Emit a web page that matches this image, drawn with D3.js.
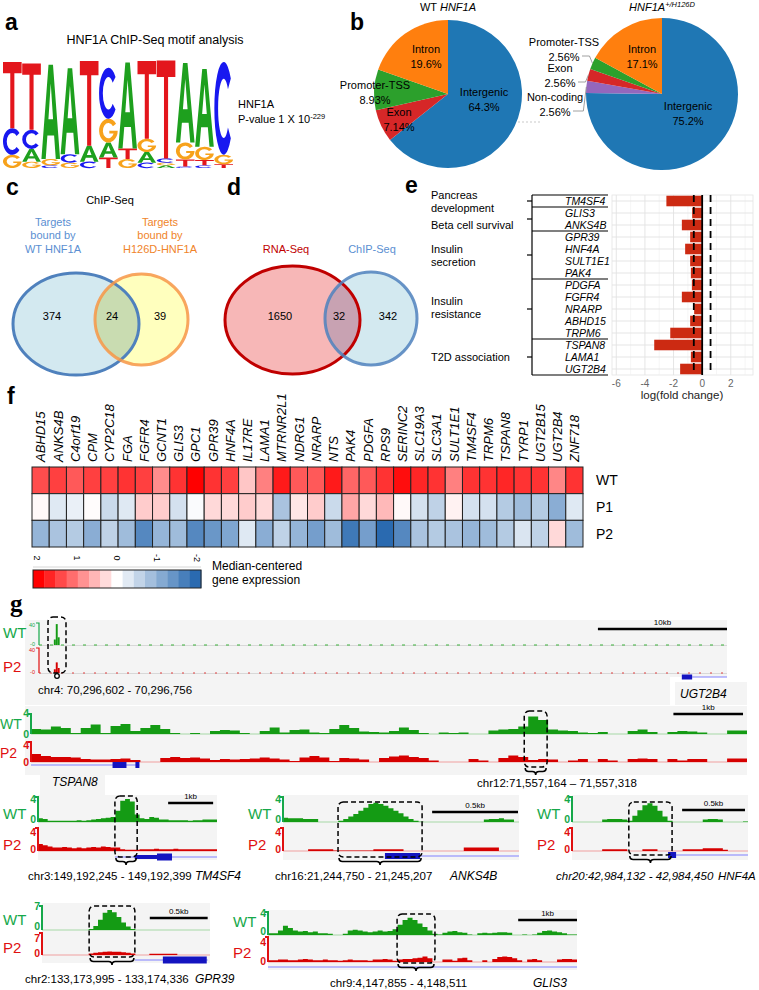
<!DOCTYPE html>
<html><head><meta charset="utf-8">
<script src="https://cdn.jsdelivr.net/npm/d3@7/dist/d3.min.js"></script>
<style>
html,body{margin:0;padding:0;background:#fff;}
svg{display:block;}
</style></head>
<body>
<svg id="fig" width="759" height="990" font-family="Liberation Sans, Arial, sans-serif"></svg>
<script>
// ================= DATA =================
// (a) motif logo, information content (bits) per position
const motifLetters = ["A","C","G","T"];
const motifA = [0,0.24,1.78,1.62,0.3,0.28,1.62,0.2,0.05,1.5,1.47,0];
const motifC = [0.5,0.36,0.05,0.16,0.12,0.96,0,0.1,0.08,0.03,0.05,1.75];
const motifG = [0.25,0.12,0.12,0.1,0,0.45,0.17,0.25,0.05,0.32,0.25,0.18];
const motifT = [1.25,1.25,0,0,1.6,0.2,0.2,1.47,1.85,0.13,0.1,0.07];

// (b) genomic distribution pies
const pieCategories = ["Intergenic","Non-coding","Exon","Promoter-TSS","Intron"];
const pieWT  = [64.3, 0, 7.14, 8.93, 19.6];
const pieMut = [75.2, 2.56, 2.56, 2.56, 17.1];

// (c) (d) Venn counts [left only, both, right only]
const vennCCounts = [374, 24, 39];
const vennDCounts = [1650, 32, 342];

// (e) log fold change
const feGenes = ["TM4SF4","GLIS3","ANKS4B","GPR39","HNF4A","SULT1E1","PAK4","PDGFA","FGFR4","NRARP","ABHD15","TRPM6","TSPAN8","LAMA1","UGT2B4"];
const feLogFC = [-2.5,-0.7,-1.42,-0.84,-1.19,-0.84,-0.79,-0.72,-1.42,-0.56,-0.84,-2.23,-3.35,-0.79,-1.54];
const feGroupLines = [["Pancreas","development"],["Beta cell survival"],["Insulin","secretion"],["Insulin","resistance"],["T2D association"]];
const feGroupSizes = [1,2,4,5,3];
const feTicks = [-6,-4,-2,0,2];
const feThreshold = 0.585;

// (f) heatmap
const hmGenes = ["ABHD15","ANKS4B","C4orf19","CPM","CYP2C18","FGA","FGFR4","GCNT1","GLIS3","GPC1","GPR39","HNF4A","IL17RE","LAMA1","MTRNR2L1","NDRG1","NRARP","NTS","PAK4","PDGFA","RPS9","SERINC2","SLC19A3","SLC3A1","SULT1E1","TM4SF4","TRPM6","TSPAN8","TYRP1","UGT2B15","UGT2B4","ZNF718"];
const hmRows = ["WT","P1","P2"];
const hmWT = [1.4,1.5,1.3,1.5,1.5,1.6,1.5,0.9,1.6,2.0,1.6,1.5,0.45,1.0,1.8,1.3,1.3,1.8,1.2,1.3,1.6,1.9,1.7,1.6,1.0,1.6,1.6,1.7,1.6,1.6,0.95,1.6];
const hmP1 = [0.05,-0.3,-0.2,0.02,-0.5,-0.3,0.4,0.4,-0.4,-0.05,0.3,0.3,0.4,0.3,-0.8,0.2,0.4,-0.5,0.7,0.3,0.55,0.05,-0.4,-0.6,0.1,-0.4,-0.4,-0.7,-0.9,-0.7,-1.1,-0.3];
const hmP2 = [-1.0,-0.8,-0.7,-1.1,-0.6,-0.9,-1.6,-1.0,-0.9,-1.6,-1.4,-1.2,-0.3,-1.1,-0.6,-1.0,-1.3,-0.9,-1.8,-1.3,-2.0,-1.6,-0.8,-0.7,-0.8,-1.0,-0.9,-0.7,-0.35,-0.6,0.3,-0.9];
const hmLegendTicks = [2,1,0,-1,-2];

// (g) ChIP-seq coverage (binned) per locus
const chr4WT = [[1.15,1.3,10],[1.3,1.45,38],[1.45,1.6,14]];   // [startKb, endKb, value]
const chr4P2 = [[1.15,1.3,6],[1.3,1.45,17],[1.45,1.6,8]];
const chr12WT = [1.0,0.9,1.5,1.2,0.2,1.2,1.9,0.2,1.6,2.0,0.6,1.2,1.8,1.0,0.2,0,0.2,0,0.6,0.8,0.7,0.2,0,0.6,1.3,0.3,0.8,0.9,0.3,0.2,1.0,1.8,1.2,0.5,0.4,0.3,0.6,1.3,0.8,0.2,0,0.3,0.2,0.3,0,0,0.7,0.9,1.0,1.5,3.5,2.8,0.9,0.7,0.6,0.3,0.2,0.4,0,0,0.6,0.9,0.4,0,0.4,0.6,0.5,0.3,0,0,0.7,0.7];
const chr12P2 = [1.6,1.2,1.0,1.0,0.9,0.6,0.5,0.5,0.6,0.7,0.4,0,0,0.8,1.0,0.8,0.9,0.7,0.4,0.6,0.5,0.6,0.7,0.9,0.7,0.5,0.2,0.9,1.2,0.9,0.2,0.8,0.7,0.5,0,0.8,1.1,1.3,1.0,0.8,0.3,0,0,0,0.6,0.3,0,0.8,1.3,1.0,0.4,0.6,0.5,0,0.3,0.6,0,0.6,0.3,0,0.6,0.7,0.6,0,0.6,0.3,0.6,0.6,0,0,0.7,0.7];
const chr3WT = [0.6,0.5,0.2,0.2,0.2,0.2,0.2,0.2,0.3,0.2,0.3,0.4,0.5,0.6,0.7,0.8,1.8,3.4,3.7,3.3,1.2,0.6,0.5,0.8,0.7,0.4,0.4,0.3,0.3,0.3,0.3,0.2,0.3,0.3,0.4,0.4,0.4];
const chr3P2 = [1.2,1.0,0.8,0.6,0.6,0.7,0.6,0.5,0.6,0.5,0.6,0.7,0.6,0.8,0.7,0.6,0.6,0.3,0.2,0.2,0.2,0.3,0.3,0.3,0.4,0.3,0.3,0.3,0.4,0.3,0.3,0.3,0.3,0.3,0.3,0.3,0.3];
const chr16WT = [0.7,0.6,0.6,0.6,0.5,0.5,0.5,0,0,0,0,0.2,0.5,0.9,1.3,1.8,2.3,2.9,3.1,2.9,2.6,2.2,1.8,1.4,0.9,0.5,0.2,0.05,0,0,0,0,0,0,0,0,0,0,0,0,0.4,0.5,0.5,0.6,0.4,0.4,0];
const chr16P2 = [0,0,0,0,0,0.3,0.3,0.3,0.3,0.3,0.1,0.1,0.1,0.1,0.1,0.1,0.1,0.1,0.3,0.3,0.3,0.3,0.3,0.3,0,0,0,0,0,0,0,0,0,0,0,0,0.6,0.6,0.6,0.6,0.6,0.6,0.6,0,0,0,0];
const chr20WT = [0,0,0,0,0,0,0.4,0.5,0.5,0.5,0.4,0.2,1.0,1.9,2.7,3.0,2.6,1.8,0.9,0.2,0,0,0,0,0,0,0.4,0.5,0.5,0.4,0,0,0,0,0.1];
const chr20P2 = [0,0,0,0,0,0,0.3,0.3,0.3,0.3,0.3,0,0,0,0.3,0.3,0.3,0,0,0,0,0,0.3,0.3,0.3,0.3,0.5,0.5,0.5,0.5,0.2,0,0,0,0];
const chr2WT = [0,0,0,0,0,0,0,0,0,0,0.3,1.2,3.0,5.0,5.8,5.2,3.8,2.2,1.0,0.3,0,0,0,0,0,0,0,0,0,0,0,0,0,0,0,0];
const chr2P2 = [0,0,0,0,0,0,0,0,0,0,0.5,0.7,0.9,1.0,1.1,1.0,1.0,0.9,0.7,0.5,0,0,0,0.4,0.4,0.4,0.4,0.4,0.4,0,0,0,0,0,0,0];
const chr9WT = [0.3,0.3,0.8,1.6,1.2,0.8,0.6,0.7,0.5,0.6,0.3,0.3,0.2,0,0,0.2,0.8,0.9,0.8,0.6,0.5,0.6,0.8,0.6,0.7,1.0,1.8,2.6,3.0,2.6,2.0,1.4,0.8,0.2,0.1,0.4,0.6,0.7,0.5,0.4,0.1,0,0.3,0.4,0.3,0.4,0.5,0.5,0.4,0,0,0.1,0,0.1,0.4,0.7,0.8,0.6,0.5,0.3,0.1,0.1];
const chr9P2 = [0.3,0.3,0.4,0.4,0.3,0.3,0.4,0.5,0.4,0.3,0.3,0.4,0.3,0.3,0.2,0.3,0.4,0.3,0.3,0.3,0.2,0.4,0.4,0.5,0.4,0.2,0.4,0.5,0.5,0.6,0.7,0.9,0.6,0,0,0.4,0.4,0.2,0.6,0.7,0.3,0,0,0.3,0,0.5,0.8,0.9,0.8,0.6,0.3,0,0.4,0.5,0.3,0,0,0,0.4,0.5,0.5,0.4];

// ================= DRAWING =================
const svg = d3.select("#fig");

function T(parent, x, y, s, o = {}) {
  const t = parent.append("text").attr("x", x).attr("y", y)
    .attr("font-size", o.size || 11).attr("fill", o.fill || "#000");
  if (o.anchor) t.attr("text-anchor", o.anchor);
  if (o.italic) t.attr("font-style", "italic");
  if (o.bold) t.attr("font-weight", "bold");
  if (o.family) t.attr("font-family", o.family);
  if (s !== null) t.text(s);
  return t;
}

// panel letters
[["a",5,30],["b",350,30],["c",6,195],["d",227,195],["e",405,193],["f",7,404]]
  .forEach(([s,x,y]) => T(svg,x,y,s,{size:23,bold:true}));
T(svg,10,612,"g",{size:25,bold:true,family:"Liberation Serif, Times New Roman, serif"});

// ---------- (a) motif ----------
T(svg,155,44,"HNF1A ChIP-Seq motif analysis",{size:12.5,anchor:"middle"});
const motifColors = {A:"#1ea01e", C:"#1818f0", G:"#f7a21b", T:"#e3161c"};
const glyphPath = {
  T: "M0,0 H1 V0.17 H0.61 V1 H0.39 V0.17 H0 Z",
  A: "M0,1 L0.38,0 L0.62,0 L1,1 L0.77,1 L0.68,0.75 L0.32,0.75 L0.23,1 Z M0.375,0.58 L0.625,0.58 L0.5,0.2 Z",
  C: "M0.883,0.179 A0.5,0.5 0 1 0 0.883,0.821 L0.73,0.706 A0.3,0.32 0 1 1 0.73,0.294 Z",
  G: "M0.91,0.213 A0.5,0.5 0 1 0 1,0.5 L0.55,0.5 L0.55,0.62 L0.78,0.62 A0.3,0.32 0 1 1 0.746,0.316 Z"
};
const motif = {A:motifA, C:motifC, G:motifG, T:motifT};
const gA = svg.append("g");
const xm = d3.scaleBand().domain(d3.range(motifA.length)).range([3,233]).paddingInner(0.03);
const ym = d3.scaleLinear().domain([0,2]).range([168,62]);
d3.range(motifA.length).forEach(i => {
  const stack = motifLetters.map(L => ({L, h: motif[L][i]})).filter(d => d.h > 0).sort((a,b) => a.h - b.h);
  let cum = 0;
  stack.forEach(d => {
    const yTop = ym(cum + d.h), yBot = ym(cum);
    cum += d.h;
    gA.append("path").attr("d", glyphPath[d.L]).attr("fill", motifColors[d.L]).attr("fill-rule","evenodd")
      .attr("transform", `translate(${xm(i)},${yTop}) scale(${xm.bandwidth()},${yBot - yTop})`);
  });
});
T(svg,238,108,"HNF1A",{size:11});
const pv = T(svg,238,123,"P-value 1 X 10",{size:11});
pv.append("tspan").attr("dy",-4).attr("font-size",7.5).text("-229");

// ---------- (b) pies ----------
const pieColors = {"Intergenic":"#1f77b4","Non-coding":"#9467bd","Exon":"#d62728","Promoter-TSS":"#2ca02c","Intron":"#ff7f0e"};
const pct = v => d3.format(".3")(v) + "%";
function drawPie(cx, cy, r, vals) {
  const data = pieCategories.map((c,i) => ({c, v: vals[i]}));
  const arcs = d3.pie().sort(null).value(d => d.v)(data);
  const g = svg.append("g").attr("transform", `translate(${cx},${cy})`);
  const arc = d3.arc().innerRadius(0).outerRadius(r);
  g.selectAll("path").data(arcs.filter(a => a.data.v > 0)).join("path")
    .attr("d", arc).attr("fill", a => pieColors[a.data.c]);
  return {g, arcs, data};
}
function pieLabel(g, dx, dy, name, val) {
  T(g, dx, dy - 5.5, name, {size:11, anchor:"middle"});
  T(g, dx, dy + 9.5, pct(val), {size:11, anchor:"middle"});
}
const tW = T(svg,448,11,"WT ",{size:11,anchor:"middle"});
tW.append("tspan").attr("font-style","italic").text("HNF1A");
const pw = drawPie(448, 94, 74, pieWT);
const wtLabelPos = {"Intergenic":[36,7],"Exon":[-49,27],"Promoter-TSS":[-73,0],"Intron":[-22,-36]};
pieCategories.forEach((c,i) => { if (pieWT[i] > 0) pieLabel(pw.g, wtLabelPos[c][0], wtLabelPos[c][1], c, pieWT[i]); });
const tM = T(svg,662,11,null,{size:11,anchor:"middle",italic:true});
tM.append("tspan").text("HNF1A");
tM.append("tspan").attr("dy",-4).attr("font-size",7.5).text("+/H126D");
const pm = drawPie(662, 94, 76, pieMut);
const mutInside = {"Intergenic":[26,21],"Intron":[-20,-36]};
const mutOutside = {"Promoter-TSS":[-98,-43],"Exon":[-102,-17],"Non-coding":[-107,12]};
pieCategories.forEach((c,i) => {
  if (pieMut[i] <= 0) return;
  if (mutInside[c]) { pieLabel(pm.g, mutInside[c][0], mutInside[c][1], c, pieMut[i]); return; }
  const [lx, ly] = mutOutside[c];
  pieLabel(pm.g, lx, ly, c, pieMut[i]);
  const a = pm.arcs[i];
  const mid = (a.startAngle + a.endAngle) / 2;
  const px = Math.sin(mid) * 76, py = -Math.cos(mid) * 76;
  pm.g.append("polyline").attr("points", `${lx+18},${ly+5} ${px-3},${ly+5} ${px},${py}`)
    .attr("fill","none").attr("stroke","#888").attr("stroke-width",0.8);
});
svg.append("line").attr("x1",518).attr("x2",540).attr("y1",122).attr("y2",122).attr("stroke","#bbb").attr("stroke-width",0.8).attr("stroke-dasharray","2,2");

// ---------- (c) (d) Venn ----------
function venn(A, B, fills, strokes, counts, countPos, id) {
  const g = svg.append("g");
  g.append("defs").append("clipPath").attr("id", id).append("ellipse")
    .attr("cx",A.cx).attr("cy",A.cy).attr("rx",A.rx).attr("ry",A.ry);
  g.append("ellipse").attr("cx",A.cx).attr("cy",A.cy).attr("rx",A.rx).attr("ry",A.ry).attr("fill",fills[0]);
  g.append("ellipse").attr("cx",B.cx).attr("cy",B.cy).attr("rx",B.rx).attr("ry",B.ry).attr("fill",fills[1]);
  g.append("ellipse").attr("cx",B.cx).attr("cy",B.cy).attr("rx",B.rx).attr("ry",B.ry).attr("fill",fills[2]).attr("clip-path",`url(#${id})`);
  g.append("ellipse").attr("cx",A.cx).attr("cy",A.cy).attr("rx",A.rx).attr("ry",A.ry).attr("fill","none").attr("stroke",strokes[0]).attr("stroke-width",3);
  g.append("ellipse").attr("cx",B.cx).attr("cy",B.cy).attr("rx",B.rx).attr("ry",B.ry).attr("fill","none").attr("stroke",strokes[1]).attr("stroke-width",3).attr("stroke-opacity",0.85);
  counts.forEach((v,i) => T(g, countPos[i], 320, String(v), {size:11, anchor:"middle"}));
}
T(svg,110,204,"ChIP-Seq",{size:11,anchor:"middle"});
[["Targets",226],["bound by",239],["WT HNF1A",253]].forEach(([s,y]) => T(svg,53,y,s,{size:11,anchor:"middle",fill:"#5b8fd2"}));
[["Targets",226],["bound by",239],["H126D-HNF1A",253]].forEach(([s,y]) => T(svg,160,y,s,{size:11,anchor:"middle",fill:"#f0842a"}));
venn({cx:76,cy:324,rx:63,ry:51},{cx:141.5,cy:319.5,rx:46.5,ry:45.5},
  ["#d3e9f0","#ffffbe","#c9dcb1"],["#4f81bd","#f79646"], vennCCounts, [52,112,160], "clipC");
T(svg,286,253,"RNA-Seq",{size:11,anchor:"middle",fill:"#c00000"});
T(svg,372,253,"ChIP-Seq",{size:11,anchor:"middle",fill:"#5b8fd2"});
venn({cx:292.5,cy:320,rx:67.5,ry:54},{cx:371,cy:318.5,rx:46,ry:46.5},
  ["#f7b7b7","#d3e9f0","#c8a2b2"],["#c00000","#4f81bd"], vennDCounts, [280,339,388], "clipD");

// ---------- (e) bar chart ----------
const gE = svg.append("g");
const xe = d3.scaleLinear().domain([-6.3,3.55]).range([612,753]);
const ye = d3.scaleBand().domain(feGenes).range([195,375]);
gE.append("rect").attr("x",612).attr("y",195).attr("width",141).attr("height",180).attr("fill","#fff").attr("stroke","#e4e4e4").attr("stroke-width",0.8);
d3.range(-5,4,2).forEach(v => gE.append("line").attr("x1",xe(v)).attr("x2",xe(v)).attr("y1",195).attr("y2",375).attr("stroke","#f0f0f0").attr("stroke-width",0.6));
feTicks.forEach(v => gE.append("line").attr("x1",xe(v)).attr("x2",xe(v)).attr("y1",195).attr("y2",375).attr("stroke","#e2e2e2").attr("stroke-width",0.9));
feGenes.forEach(gn => gE.append("line").attr("x1",612).attr("x2",753).attr("y1",ye(gn)+ye.bandwidth()/2).attr("y2",ye(gn)+ye.bandwidth()/2).attr("stroke","#e2e2e2").attr("stroke-width",0.9));
gE.selectAll("rect.bar").data(feGenes.map((g,i)=>({g,v:feLogFC[i]}))).join("rect").attr("class","bar")
  .attr("x",d=>xe(Math.min(0,d.v))).attr("width",d=>Math.abs(xe(d.v)-xe(0)))
  .attr("y",d=>ye(d.g)+ye.bandwidth()*0.06).attr("height",ye.bandwidth()*0.88).attr("fill","#cc2a12");
[-feThreshold, feThreshold].forEach(v => gE.append("line").attr("x1",xe(v)).attr("x2",xe(v)).attr("y1",195).attr("y2",375).attr("stroke","#000").attr("stroke-width",1.8).attr("stroke-dasharray","7,5"));
gE.append("line").attr("x1",xe(0)).attr("x2",xe(0)).attr("y1",195).attr("y2",375).attr("stroke","#000").attr("stroke-width",1.8);
feTicks.forEach(v => T(gE, xe(v), 387, String(v), {size:10, anchor:"middle", fill:"#666"}));
T(gE, 682, 399, "log(fold change)", {size:11.5, anchor:"middle", fill:"#222"});
feGenes.forEach(gn => T(gE, 565, ye(gn)+ye.bandwidth()/2+3.8, gn, {size:10.5, italic:true}));
gE.append("line").attr("x1",532).attr("x2",532).attr("y1",195).attr("y2",375).attr("stroke","#000").attr("stroke-width",1.2);
let gi = 0;
const groupYOffset = [0,6,0,-2,0];
feGroupSizes.forEach((n,k) => {
  const yTop = ye(feGenes[gi]), yBot = ye(feGenes[gi+n-1]) + ye.bandwidth();
  if (k === 0) gE.append("line").attr("x1",532).attr("x2",608).attr("y1",yTop).attr("y2",yTop).attr("stroke","#000").attr("stroke-width",1.2);
  gE.append("line").attr("x1",532).attr("x2",608).attr("y1",yBot).attr("y2",yBot).attr("stroke","#000").attr("stroke-width",1.2);
  const mid = (yTop + yBot) / 2;
  gE.append("line").attr("x1",527).attr("x2",532).attr("y1",mid).attr("y2",mid).attr("stroke","#000").attr("stroke-width",1.2);
  const lines = feGroupLines[k];
  const c = mid + groupYOffset[k];
  lines.forEach((s,j) => T(gE, 431, c + 4 + (j - (lines.length-1)/2)*13, s, {size:11}));
  gi += n;
});

// ---------- (f) heatmap ----------
const gF = svg.append("g");
const xh = d3.scaleBand().domain(hmGenes).range([32,583]);
const yh = d3.scaleBand().domain(hmRows).range([467,547]);
const hmColor = d3.scaleLinear().domain([-2,0,2]).range(["#2a6ab0","#ffffff","#ff0000"]).clamp(true);
const hmVals = {WT:hmWT, P1:hmP1, P2:hmP2};
hmRows.forEach(r => hmGenes.forEach((gn,i) => {
  gF.append("rect").attr("x",xh(gn)).attr("y",yh(r)).attr("width",xh.bandwidth()).attr("height",yh.bandwidth())
    .attr("fill",hmColor(hmVals[r][i])).attr("stroke","#222").attr("stroke-width",1);
}));
hmGenes.forEach(gn => {
  gF.append("text").attr("transform",`translate(${xh(gn)+xh.bandwidth()/2+4.8},462) rotate(-90)`)
    .attr("font-size",13).attr("font-style","italic").text(gn);
});
hmRows.forEach(r => T(gF, 596, yh(r)+yh.bandwidth()/2+5, r, {size:14}));
const nSteps = 15;
const legVals = d3.range(nSteps).map(i => 2 - i*4/(nSteps-1));
const xl = d3.scaleBand().domain(d3.range(nSteps)).range([33,201]);
legVals.forEach((v,i) => gF.append("rect").attr("x",xl(i)).attr("y",570).attr("width",xl.bandwidth()+0.4).attr("height",18).attr("fill",hmColor(v)));
gF.append("rect").attr("x",33).attr("y",570).attr("width",168).attr("height",18).attr("fill","none").attr("stroke","#222").attr("stroke-width",1);
gF.append("line").attr("x1",33).attr("x2",201).attr("y1",567).attr("y2",567).attr("stroke","#ccc").attr("stroke-width",0.8);
const xlt = d3.scaleLinear().domain([2,-2]).range([37,197]);
hmLegendTicks.forEach(v => gF.append("text").attr("transform",`translate(${xlt(v)-3},558) rotate(90)`).attr("text-anchor","middle").attr("font-size",9).text(String(v)));
T(gF, 212, 570, "Median-centered", {size:12});
T(gF, 212, 584, "gene expression", {size:12});

// ---------- (g) tracks ----------
const gG = svg.append("g");
const GREEN = "#149b14", RED = "#d60000", TGREEN = "#16a84a", TRED = "#e01010", BG = "#f4f4f4";
function bg(x0,y0,x1,y1){ gG.append("rect").attr("x",x0).attr("y",y0).attr("width",x1-x0).attr("height",y1-y0).attr("fill",BG); }
function stepArea(vals, x, y, color) {
  const pts = [];
  vals.forEach((v,i) => { pts.push({i, v}); pts.push({i:i+1, v}); });
  const area = d3.area().defined(d => d.v > 0).x(d => x(d.i)).y0(y(0)).y1(d => y(d.v));
  gG.append("path").attr("d", area(pts)).attr("fill", color);
}
function brace(x1, x2, y, h) {
  const m = (x1+x2)/2, q = h/2;
  gG.append("path").attr("d",`M${x1},${y} Q${x1},${y+q} ${x1+q},${y+q} L${m-q},${y+q} Q${m},${y+q} ${m},${y+h} Q${m},${y+q} ${m+q},${y+q} L${x2-q},${y+q} Q${x2},${y+q} ${x2},${y}`)
    .attr("fill","none").attr("stroke","#000").attr("stroke-width",1.6);
}
function dashBox(x0,x1,y0,y1){
  gG.append("rect").attr("x",x0).attr("y",y0).attr("width",x1-x0).attr("height",y1-y0).attr("rx",5)
    .attr("fill","none").attr("stroke","#000").attr("stroke-width",1.5).attr("stroke-dasharray","5,3");
}
function scaleBar(x0,x1,y,label){
  gG.append("line").attr("x1",x0).attr("x2",x1).attr("y1",y).attr("y2",y).attr("stroke","#000").attr("stroke-width",2.5);
  T(gG,(x0+x1)/2,y-4,label,{size:8,anchor:"middle"});
}
function drawTrack(o) {
  bg(o.x0, o.bgY[0], o.x1, o.bgY[1]);
  const n = o.wt.length;
  const x = d3.scaleLinear().domain([0,n]).range([o.x0,o.x1]);
  const yW = d3.scaleLinear().domain([0,o.max]).range([o.wB,o.wT]);
  const yP = d3.scaleLinear().domain([0,o.max]).range([o.pB,o.pT]);
  gG.append("line").attr("x1",o.x0).attr("x2",o.x1).attr("y1",o.wB).attr("y2",o.wB).attr("stroke","#a6d8a6").attr("stroke-width",1.2);
  gG.append("line").attr("x1",o.x0).attr("x2",o.x1).attr("y1",o.pB).attr("y2",o.pB).attr("stroke","#f0a0a0").attr("stroke-width",1.2);
  stepArea(o.wt, x, yW, GREEN);
  stepArea(o.p2, x, yP, RED);
  [[o.wB,o.wT,TGREEN],[o.pB,o.pT,TRED]].forEach(([b,t,c]) => {
    gG.append("path").attr("d",`M${o.x0-3},${t} L${o.x0},${t} L${o.x0},${b}`).attr("fill","none").attr("stroke",c).attr("stroke-width",2);
  });
  const ns = 10.5;
  T(gG,o.x0-2,o.wT+o.numOff[0],String(o.max),{size:ns,bold:true,anchor:"end",fill:TGREEN});
  T(gG,o.x0-2,o.wB+o.numOff[1],"0",{size:ns,bold:true,anchor:"end",fill:TGREEN});
  T(gG,o.x0-2,o.pT+o.numOff[2],String(o.max),{size:ns,bold:true,anchor:"end",fill:TRED});
  T(gG,o.x0-2,o.pB+o.numOff[3],"0",{size:ns,bold:true,anchor:"end",fill:TRED});
  T(gG,o.lab[0],o.lab[1],"WT",{size:o.lab[3]||15,fill:TGREEN});
  T(gG,o.lab[0],o.lab[2],"P2",{size:o.lab[3]||15,fill:TRED});
  gG.append("line").attr("x1",x(o.gene.line[0])).attr("x2",x(o.gene.line[1])).attr("y1",o.gene.y).attr("y2",o.gene.y).attr("stroke","#8080ff").attr("stroke-width",1);
  o.gene.exons.forEach(([a,b,h]) => gG.append("rect").attr("x",x(a)).attr("y",o.gene.y-h/2).attr("width",x(b)-x(a)).attr("height",h).attr("fill","#1414c0"));
  dashBox(x(o.box[0]), x(o.box[1]), o.boxY[0], o.boxY[1]);
  brace(x(o.box[0])+1, x(o.box[1])-1, o.boxY[1]+1, 7);
  scaleBar(x(o.bar[0]), x(o.bar[1]), o.bar[2], o.bar[3]);
  T(gG, o.coord[0], o.coord[1], o.coord[2], {size:11.5, anchor:o.coord[3]||"start", italic:!!o.coord[4]});
  T(gG, o.gname[0], o.gname[1], o.gname[2], {size:o.gname[3]||12, italic:true});
}

// chr4 overview (UGT2B4)
bg(25,620,670,705); bg(25,620,727,677); bg(675,682,747,705);
const x4 = d3.scaleLinear().domain([0,53.3]).range([39,727]);
const y4W = d3.scaleLinear().domain([0,40]).range([645,623]);
const y4P = d3.scaleLinear().domain([0,40]).range([673,648]);
gG.append("line").attr("x1",39).attr("x2",727).attr("y1",645.5).attr("y2",645.5).attr("stroke","#d8d8d8");
gG.append("line").attr("x1",39).attr("x2",727).attr("y1",673.5).attr("y2",673.5).attr("stroke","#d8d8d8");
gG.append("line").attr("x1",39).attr("x2",727).attr("y1",645).attr("y2",645).attr("stroke","#3bb03b").attr("stroke-width",1.2).attr("stroke-dasharray","3,8");
gG.append("line").attr("x1",39).attr("x2",727).attr("y1",673).attr("y2",673).attr("stroke","#e04040").attr("stroke-width",1.2).attr("stroke-dasharray","2,9");
chr4WT.forEach(([a,b,v]) => gG.append("rect").attr("x",x4(a)).attr("width",x4(b)-x4(a)).attr("y",y4W(v)).attr("height",y4W(0)-y4W(v)).attr("fill",GREEN));
chr4P2.forEach(([a,b,v]) => gG.append("rect").attr("x",x4(a)).attr("width",x4(b)-x4(a)).attr("y",y4P(v)).attr("height",y4P(0)-y4P(v)).attr("fill",RED));
gG.append("path").attr("d","M36,623 L39,623 L39,645").attr("fill","none").attr("stroke",TGREEN).attr("stroke-width",1.2);
gG.append("path").attr("d","M36,648 L39,648 L39,673").attr("fill","none").attr("stroke",TRED).attr("stroke-width",1.2);
T(gG,35,627,"40",{size:5.5,anchor:"end",fill:TGREEN}); T(gG,35,646,"-0",{size:5.5,anchor:"end",fill:TGREEN});
T(gG,35,652,"40",{size:5.5,anchor:"end",fill:TRED}); T(gG,35,674,"-0",{size:5.5,anchor:"end",fill:TRED});
T(gG,3,638,"WT",{size:15,fill:TGREEN}); T(gG,3,672,"P2",{size:15,fill:TRED});
dashBox(48,66,617,673);
gG.append("circle").attr("cx",57).attr("cy",676).attr("r",2.3).attr("fill","#fff").attr("stroke","#000").attr("stroke-width",1.3);
scaleBar(x4(43.3), x4(53.3), 629, "10kb");
gG.append("line").attr("x1",x4(50.6)).attr("x2",x4(53.3)).attr("y1",677).attr("y2",677).attr("stroke","#8080ff");
gG.append("rect").attr("x",x4(49.8)).attr("y",674.5).attr("width",x4(50.6)-x4(49.8)).attr("height",5).attr("fill","#1414c0");
T(gG,38,694,"chr4: 70,296,602 - 70,296,756",{size:11.5});
T(gG,680,698,"UGT2B4",{size:12,italic:true});

// chr12 (TSPAN8)
bg(25,706,747,775); bg(40,775,105,795);
drawTrack({wt:chr12WT, p2:chr12P2, x0:31, x1:747, bgY:[706,773], wB:734, wT:714, pB:762, pT:742, max:4,
  numOff:[3,4,7,4], lab:[0,729,758,14],
  gene:{line:[0,10.9], y:765, exons:[[8.2,9.6,6],[10.5,10.9,6]]},
  box:[49.6,51.9], boxY:[711,767], bar:[64.6,71.6,714,"1kb"],
  coord:[557,787,"chr12:71,557,164 \u2013 71,557,318","middle"], gname:[52,786,"TSPAN8"]});
// chr3 (TM4SF4)
drawTrack({wt:chr3WT, p2:chr3P2, x0:38, x1:217, bgY:[795,860], wB:822, wT:797, pB:851, pT:828, max:4,
  numOff:[6,1,8,2], lab:[3,819,850],
  gene:{line:[15.9,37], y:857, exons:[[20.0,24.6,4],[24.6,27.7,7]]},
  box:[15.9,20.5], boxY:[796,857], bar:[26.9,36.2,803,"1kb"],
  coord:[28,880,"chr3:149,192,245 - 149,192,399"], gname:[195,880,"TM4SF4"]});
// chr16 (ANKS4B)
drawTrack({wt:chr16WT, p2:chr16P2, x0:283, x1:519, bgY:[795,860], wB:822, wT:797, pB:851, pT:828, max:4,
  numOff:[6,1,8,2], lab:[248,819,850],
  gene:{line:[20.3,47], y:856, exons:[[20.3,27.3,6]]},
  box:[10.96,27.7], boxY:[802,857], bar:[29.7,46.8,812,"0.5kb"],
  coord:[275,880,"chr16:21,244,750 - 21,245,207"], gname:[450,880,"ANKS4B"]});
// chr20 (HNF4A)
drawTrack({wt:chr20WT, p2:chr20P2, x0:572, x1:748, bgY:[795,860], wB:822, wT:797, pB:851, pT:828, max:4,
  numOff:[6,1,8,2], lab:[537,819,850],
  gene:{line:[20.7,35], y:855, exons:[[19.1,20.7,6]]},
  box:[11.3,19.9], boxY:[802,855], bar:[21.9,34.4,810,"0.5kb"],
  coord:[556,880,"chr20:42,984,132 - 42,984,450","start",true], gname:[718,880,"HNF4A",11.5]});
// chr2 (GPR39)
drawTrack({wt:chr2WT, p2:chr2P2, x0:42, x1:210, bgY:[903,963], wB:930, wT:906, pB:955, pT:933, max:7,
  numOff:[4,0,9,2], lab:[3,925,953],
  gene:{line:[19.9,35.5], y:960, exons:[[25.9,35.3,7]]},
  box:[10.1,19.9], boxY:[906,957], bar:[23.1,35.5,918,"0.5kb"],
  coord:[25,983,"chr2:133,173,995 - 133,174,336"], gname:[195,983,"GPR39"]});
// chr9 (GLIS3)
drawTrack({wt:chr9WT, p2:chr9P2, x0:268, x1:577, bgY:[910,970], wB:935, wT:912, pB:962, pT:937, max:4,
  numOff:[5,0,9,3], lab:[233,927,958],
  gene:{line:[0,62], y:967, exons:[]},
  box:[25.9,33.5], boxY:[914,963], bar:[50.2,62,920,"1kb"],
  coord:[330,987,"chr9:4,147,855 - 4,148,511"], gname:[533,987,"GLIS3"]});
</script>
</body></html>
